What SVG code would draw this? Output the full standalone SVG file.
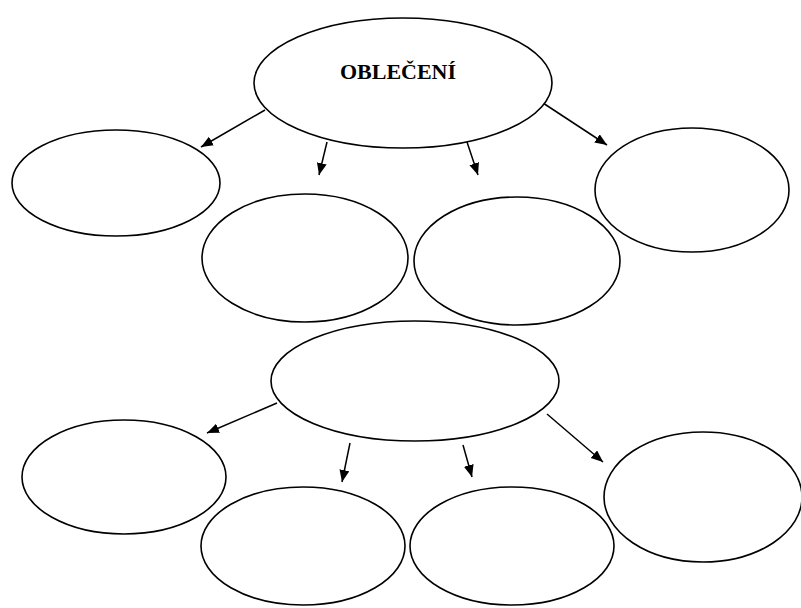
<svg xmlns="http://www.w3.org/2000/svg" width="801" height="608" viewBox="0 0 801 608">
<style>
.n{fill:#fff;stroke:#000;stroke-width:1.6}
.c{stroke:#000;stroke-width:1.5;fill:none;marker-end:url(#ah)}
.t{font-family:"Liberation Serif","Times New Roman",serif;font-weight:bold;font-size:22px;fill:#000}
</style>
<defs>
<marker id="ah" markerUnits="userSpaceOnUse" markerWidth="14" markerHeight="12" refX="12" refY="5" orient="auto">
<path d="M0,0 L12,5 L0,10 Z" fill="#000"/>
</marker>
</defs>
<rect width="801" height="608" fill="#fff"/>
<g id="connectors">
<line class="c" x1="265" y1="110" x2="201" y2="147"/>
<line class="c" x1="327" y1="142" x2="319" y2="175"/>
<line class="c" x1="467" y1="142" x2="478" y2="175"/>
<line class="c" x1="543" y1="103" x2="607" y2="145"/>
<line class="c" x1="277" y1="403" x2="207" y2="433"/>
<line class="c" x1="350" y1="443" x2="342" y2="482"/>
<line class="c" x1="463" y1="445" x2="472" y2="477"/>
<line class="c" x1="547" y1="414" x2="603" y2="462"/>
</g>
<g id="n-obleceni"><ellipse class="n" cx="403" cy="83" rx="149" ry="65"/><text class="t" x="398" y="79" text-anchor="middle">OBLEČENÍ</text></g>
<g id="n-t1"><ellipse class="n" cx="116" cy="183" rx="104" ry="53"/></g>
<g id="n-t2"><ellipse class="n" cx="305" cy="258" rx="103" ry="64"/></g>
<g id="n-t3"><ellipse class="n" cx="517" cy="261" rx="103" ry="64"/></g>
<g id="n-t4"><ellipse class="n" cx="692" cy="190" rx="97" ry="62"/></g>
<g id="n-bottom"><ellipse class="n" cx="415" cy="381" rx="144" ry="60"/></g>
<g id="n-b1"><ellipse class="n" cx="124" cy="477" rx="102" ry="57"/></g>
<g id="n-b2"><ellipse class="n" cx="303" cy="546" rx="102" ry="59"/></g>
<g id="n-b3"><ellipse class="n" cx="512" cy="546" rx="102" ry="59"/></g>
<g id="n-b4"><ellipse class="n" cx="703" cy="497" rx="99" ry="65"/></g>
</svg>
